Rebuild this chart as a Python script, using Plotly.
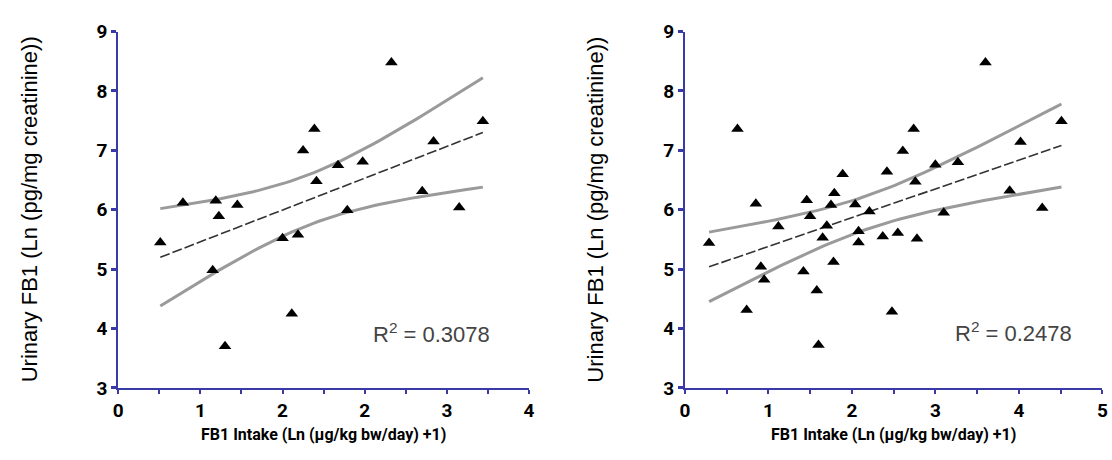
import numpy as np
import plotly.graph_objects as go

# ---------------- data ----------------
left_x = [0.41, 0.63, 0.92, 0.95, 0.98, 1.04, 1.16, 1.60, 1.69, 1.75, 1.80,
          1.91, 1.93, 2.14, 2.23, 2.38, 2.66, 2.96, 3.07, 3.32, 3.55]
left_y = [5.45, 6.12, 4.98, 6.15, 5.89, 3.70, 6.08, 5.52, 4.25, 5.58, 7.00,
          7.36, 6.48, 6.75, 5.99, 6.81, 8.48, 6.31, 7.15, 6.04, 7.49]

right_x = [0.29, 0.63, 0.74, 0.85, 0.91, 0.95, 1.12, 1.42, 1.46, 1.50,
           1.58, 1.60, 1.65, 1.70, 1.75, 1.78, 1.79, 1.89, 2.04, 2.08,
           2.08, 2.21, 2.37, 2.42, 2.48, 2.55, 2.61, 2.74, 2.76, 2.78,
           3.00, 3.10, 3.27, 3.60, 3.89, 4.02, 4.28, 4.51]
right_y = [5.44, 7.36, 4.31, 6.10, 5.04, 4.82, 5.72, 4.96, 6.16, 5.89,
           4.64, 3.72, 5.53, 5.73, 6.08, 5.12, 6.28, 6.60, 6.09, 5.64,
           5.45, 5.97, 5.55, 6.64, 4.28, 5.61, 6.99, 7.36, 6.47, 5.51,
           6.76, 5.95, 6.80, 8.48, 6.32, 7.14, 6.03, 7.49]

left_r2 = "R<sup>2</sup> = 0.3078"
right_r2 = "R<sup>2</sup> = 0.2478"

left_tickvals = [0, 0.8, 1.6, 2.4, 3.2, 4.0]
left_ticktext = ["0", "1", "2", "2", "3", "4"]
right_tickvals = [0, 1, 2, 3, 4, 5]
right_ticktext = ["0", "1", "2", "3", "4", "5"]
y_tickvals = [3, 4, 5, 6, 7, 8, 9]
y_ticktext = ["3", "4", "5", "6", "7", "8", "9"]

x_title = "FB1 Intake (Ln (µg/kg bw/day) +1)"
y_title = "Urinary FB1 (Ln (pg/mg creatinine))"

# t critical values (95%, two sided) for df = n-2
t_left = 2.093   # df 19
t_right = 2.028  # df 36


def fit_band(xs, ys, tval):
    x = np.asarray(xs, float)
    y = np.asarray(ys, float)
    n = len(x)
    b, a = np.polyfit(x, y, 1)
    resid = y - (a + b * x)
    s = np.sqrt(np.sum(resid ** 2) / (n - 2))
    xm = x.mean()
    sxx = np.sum((x - xm) ** 2)
    xg = np.linspace(x.min(), x.max(), 60)
    yg = a + b * xg
    se = s * np.sqrt(1.0 / n + (xg - xm) ** 2 / sxx)
    return xg, yg, yg - tval * se, yg + tval * se


AXIS_COL = "#3a3aa6"
FAM = "Liberation Sans, Arial, sans-serif"
BOLD_FAM = "Roboto, DejaVu Sans, sans-serif"
TICK_FONT = dict(family=BOLD_FAM, size=19, color="black", weight=700)

fig = go.Figure()

for (xs, ys, tval, xa, ya) in [(left_x, left_y, t_left, "x", "y"),
                               (right_x, right_y, t_right, "x2", "y2")]:
    xg, yg, lo, hi = fit_band(xs, ys, tval)
    for band in (hi, lo):
        fig.add_trace(go.Scatter(x=xg, y=band, mode="lines", xaxis=xa, yaxis=ya,
                                 line=dict(color="#9a9a9a", width=3),
                                 showlegend=False, hoverinfo="skip"))
    fig.add_trace(go.Scatter(x=xg, y=yg, mode="lines", xaxis=xa, yaxis=ya,
                             line=dict(color="#333333", width=1.6, dash="10px,3px"),
                             showlegend=False, hoverinfo="skip"))
    fig.add_trace(go.Scatter(x=xs, y=ys, mode="markers", xaxis=xa, yaxis=ya,
                             marker=dict(symbol="triangle-up", size=11, color="black",
                                         line=dict(width=0)),
                             showlegend=False))

xbase = dict(showline=True, linecolor=AXIS_COL, linewidth=2, ticks="outside",
             ticklen=4, tickwidth=2, tickcolor=AXIS_COL, showgrid=False,
             zeroline=False, tickfont=TICK_FONT, mirror=False)
ybase = dict(xbase, range=[3, 9], tickvals=y_tickvals, ticktext=y_ticktext,
             ticklen=5, tickwidth=3)

fig.update_layout(
    width=1112, height=460,
    margin=dict(l=0, r=0, t=0, b=0),
    paper_bgcolor="white", plot_bgcolor="white",
    xaxis=dict(xbase, domain=[0.1028, 0.4760], range=[0, 4], anchor="y",
               tickvals=left_tickvals, ticktext=left_ticktext,
               minor=dict(tick0=0, dtick=0.4, ticks="outside", ticklen=4,
                          tickwidth=2, tickcolor=AXIS_COL, showgrid=False)),
    yaxis=dict(ybase, domain=[0.1376, 0.9528], anchor="x"),
    xaxis2=dict(xbase, domain=[0.6175, 0.9967], range=[0, 5], anchor="y2",
                tickvals=right_tickvals, ticktext=right_ticktext,
                minor=dict(tick0=0, dtick=0.5, ticks="outside", ticklen=4,
                           tickwidth=2, tickcolor=AXIS_COL, showgrid=False)),
    yaxis2=dict(ybase, domain=[0.1376, 0.9528], anchor="x2"),
)

XT_FONT = dict(family=BOLD_FAM, size=16, color="black", weight=700)
YT_FONT = dict(family=FAM, size=22, color="black")
R_FONT = dict(family=FAM, size=22, color="#444444")

annos = [
    dict(text=x_title, x=0.2894, y=0.032, xref="paper", yref="paper",
         showarrow=False, font=XT_FONT, xanchor="center", yanchor="middle"),
    dict(text=x_title, x=0.8071, y=0.032, xref="paper", yref="paper",
         showarrow=False, font=XT_FONT, xanchor="center", yanchor="middle"),
    dict(text=y_title, x=0.0225, y=0.5457, xref="paper", yref="paper",
         showarrow=False, font=YT_FONT, textangle=-90, xanchor="center", yanchor="middle"),
    dict(text=y_title, x=0.536, y=0.5457, xref="paper", yref="paper",
         showarrow=False, font=YT_FONT, textangle=-90, xanchor="center", yanchor="middle"),
    dict(text=left_r2, x=3.05, y=3.92, xref="x", yref="y", showarrow=False,
         font=R_FONT, xanchor="center", yanchor="middle"),
    dict(text=right_r2, x=3.94, y=3.94, xref="x2", yref="y2", showarrow=False,
         font=R_FONT, xanchor="center", yanchor="middle"),
]
fig.update_layout(annotations=annos)

fig.write_html("out.html", config={"displayModeBar": False},
               post_script="document.body.style.margin='0';document.body.style.overflow='hidden';")
